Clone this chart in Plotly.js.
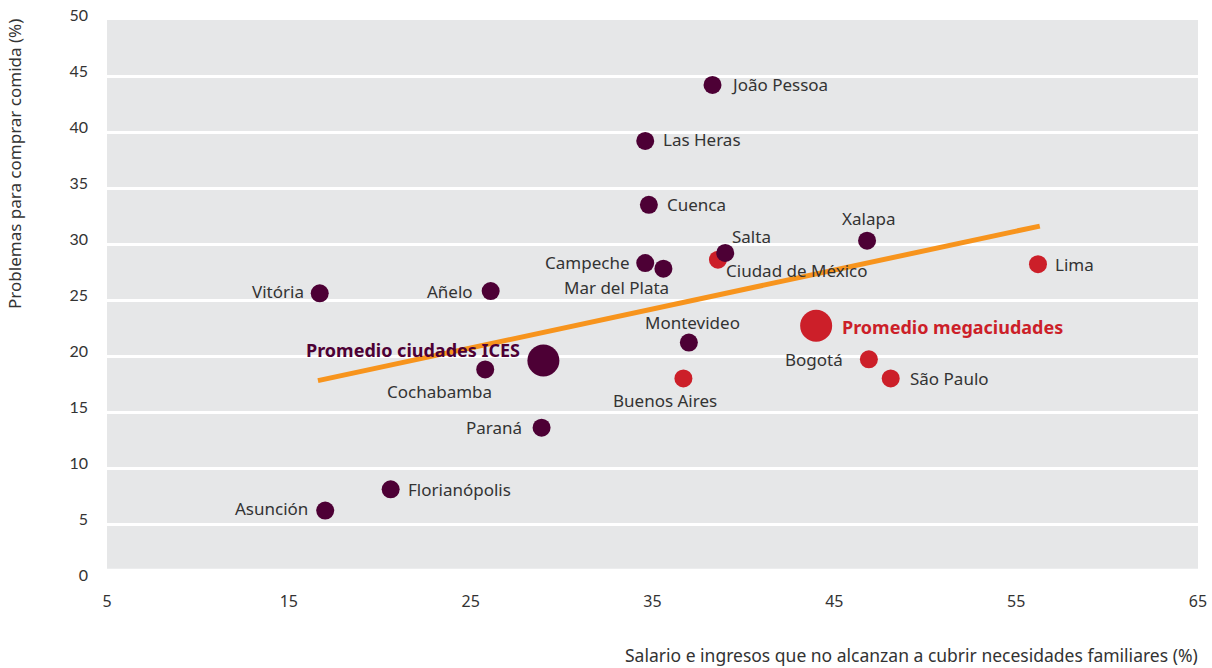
<!DOCTYPE html>
<html>
<head>
<meta charset="utf-8">
<script src="https://cdn.plot.ly/plotly-3.0.1.min.js"></script>
<style>html,body{margin:0;padding:0;background:#fff;}#chart{width:1212px;height:668px;}</style>
</head>
<body>
<div id="chart"></div>
<script>
// ICES cities (purple)
const icesNames = ["João Pessoa","Las Heras","Cuenca","Salta","Xalapa","Campeche","Mar del Plata","Vitória","Añelo","Montevideo","Cochabamba","Paraná","Florianópolis","Asunción"];
const icesX = [38.3, 34.6, 34.8, 39.0, 46.8, 34.6, 35.6, 16.7, 26.1, 37.0, 25.8, 28.9, 20.6, 17.0];
const icesY = [44.2, 39.2, 33.5, 29.2, 30.3, 28.3, 27.8, 25.6, 25.8, 21.2, 18.8, 13.6, 8.1, 6.2];
// Megacities (red)
const megaNames = ["Ciudad de México","Lima","Bogotá","São Paulo","Buenos Aires"];
const megaX = [38.6, 56.2, 46.9, 48.1, 36.7];
const megaY = [28.6, 28.2, 19.7, 18.0, 18.0];
// Averages
const avgNames = ["Promedio ciudades ICES","Promedio megaciudades"];
const avgX = [29.0, 44.0];
const avgY = [19.6, 22.7];
// Trend line endpoints
const trendX = [16.6, 56.3];
const trendY = [17.8, 31.6];
// Axis ticks
const xTicks = [5, 15, 25, 35, 45, 55, 65];
const yTicks = [0, 5, 10, 15, 20, 25, 30, 35, 40, 45, 50];
const xTitle = "Salario e ingresos que no alcanzan a cubrir necesidades familiares (%)";
const yTitle = "Problemas para comprar comida (%)";

const PURPLE = "#4d0035", RED = "#cc1f29", ORANGE = "#f7941d", TXT = "#333333";
const LFONT = "Noto Sans";

// label placement (style)
const place = {
  "João Pessoa": {a:"left", dx:16, dy:0},
  "Las Heras": {a:"left", dx:16, dy:1},
  "Cuenca": {a:"left", dx:16, dy:0},
  "Salta": {a:"left", dx:5, dy:16},
  "Xalapa": {a:"center", dx:1, dy:22},
  "Campeche": {a:"right", dx:-14, dy:1},
  "Mar del Plata": {a:"right", dx:8, dy:-19},
  "Vitória": {a:"right", dx:-14, dy:2},
  "Añelo": {a:"right", dx:-16, dy:0},
  "Montevideo": {a:"center", dx:4, dy:20},
  "Cochabamba": {a:"center", dx:-46, dy:-22},
  "Paraná": {a:"right", dx:-18, dy:0},
  "Florianópolis": {a:"left", dx:15, dy:0},
  "Asunción": {a:"right", dx:-15, dy:2},
  "Ciudad de México": {a:"left", dx:6, dy:-11},
  "Lima": {a:"left", dx:15, dy:0},
  "Bogotá": {a:"right", dx:-24, dy:0},
  "São Paulo": {a:"left", dx:17, dy:0},
  "Buenos Aires": {a:"center", dx:-18, dy:-22},
  "Promedio ciudades ICES": {a:"right", dx:-21, dy:10},
  "Promedio megaciudades": {a:"left", dx:24, dy:-1}
};

const traces = [
  {x: trendX, y: trendY, mode: "lines", line: {color: ORANGE, width: 5}, hoverinfo: "skip", showlegend: false},
  {x: megaX, y: megaY, text: megaNames, mode: "markers", marker: {color: RED, size: 18}, showlegend: false},
  {x: icesX, y: icesY, text: icesNames, mode: "markers", marker: {color: PURPLE, size: 18}, showlegend: false},
  {x: avgX, y: avgY, text: avgNames, mode: "markers", marker: {color: [PURPLE, RED], size: 32}, showlegend: false}
];

const annotations = [];
function addLabels(names, xs, ys, font) {
  names.forEach((n, i) => {
    const p = place[n];
    annotations.push({x: xs[i], y: ys[i], xref: "x", yref: "y", text: n, showarrow: false,
      xanchor: p.a, yanchor: "middle", xshift: p.dx, yshift: p.dy, font: font});
  });
}
addLabels(icesNames, icesX, icesY, {family: LFONT, size: 17, color: TXT});
addLabels(megaNames, megaX, megaY, {family: LFONT, size: 17, color: TXT});
addLabels([avgNames[0]], [avgX[0]], [avgY[0]], {family: LFONT, size: 18, color: PURPLE, weight: "bold"});
addLabels([avgNames[1]], [avgX[1]], [avgY[1]], {family: LFONT, size: 18, color: RED, weight: "bold"});
annotations.push({xref: "paper", yref: "paper", x: 1.002, y: -0.134, xanchor: "right", yanchor: "middle",
  text: xTitle, showarrow: false, font: {family: LFONT, size: 17.5, color: TXT}});
annotations.push({xref: "paper", yref: "paper", x: -0.0843, y: 0.743, xanchor: "center", yanchor: "middle",
  textangle: -90, text: yTitle, showarrow: false, font: {family: LFONT, size: 17, color: TXT}});

const layout = {
  width: 1212, height: 668,
  margin: {l: 107, r: 14, t: 20, b: 88},
  paper_bgcolor: "#ffffff", plot_bgcolor: "#ffffff",
  showlegend: false,
  xaxis: {range: [5, 65], tickvals: xTicks, ticktext: xTicks.map(String), showgrid: false, zeroline: false,
    showline: false, ticks: "", ticklabelstandoff: 10, tickfont: {family: LFONT, size: 16, color: TXT}},
  yaxis: {range: [0, 50], tickvals: yTicks, ticktext: yTicks.map(String), showgrid: true, gridcolor: "#ffffff",
    gridwidth: 3, zeroline: false, showline: false, ticks: "", ticklabelstandoff: 18, ticklabelshift: -5,
    tickfont: {family: "Lato", size: 16, color: TXT}},
  shapes: [{type: "rect", xref: "paper", yref: "y", x0: 0, x1: 1, y0: 1, y1: 50, fillcolor: "#e6e7e8",
    line: {width: 0}, layer: "below"}],
  annotations: annotations
};

Plotly.newPlot("chart", traces, layout, {displayModeBar: false, staticPlot: true});
</script>
</body>
</html>
